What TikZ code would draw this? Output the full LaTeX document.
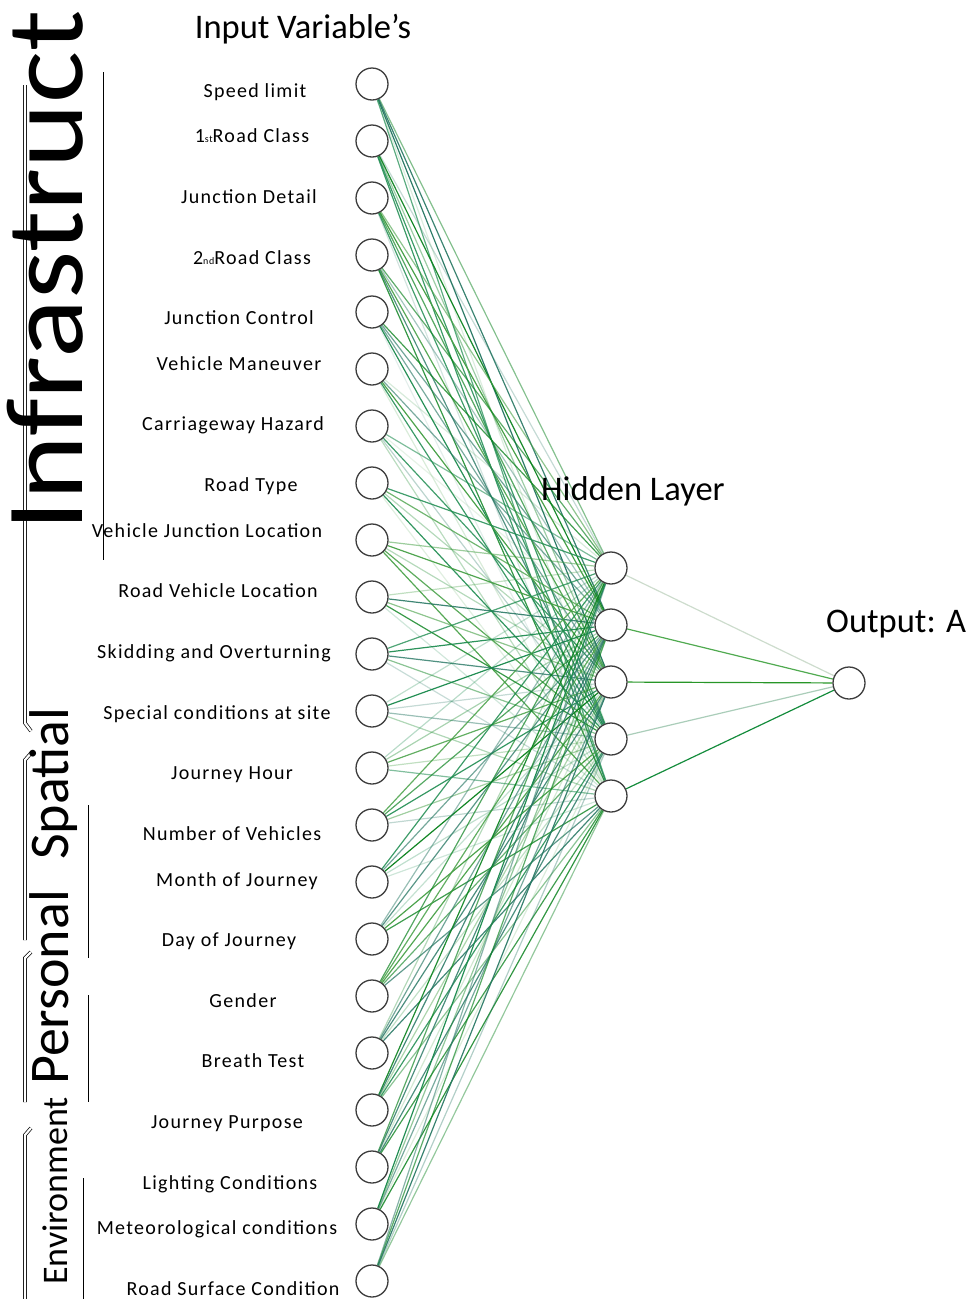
\documentclass[tikz,border=0pt]{standalone}
\usepackage{fontspec}
\setmainfont{Carlito}
\newfontfamily\labfont[LetterSpace=6.5]{Carlito}
\usetikzlibrary{backgrounds}
\definecolor{ncol}{RGB}{60,60,60}
\definecolor{g1}{RGB}{10,130,30}
\definecolor{g2}{RGB}{30,140,80}
\definecolor{g3}{RGB}{40,120,100}
\definecolor{g4}{RGB}{70,160,70}
\definecolor{hA}{RGB}{205,220,205}
\definecolor{hB}{RGB}{80,170,80}
\definecolor{hC}{RGB}{40,150,40}
\definecolor{hD}{RGB}{170,205,185}
\definecolor{hE}{RGB}{20,140,60}
\begin{document}
\begin{tikzpicture}[x=1pt,y=-1pt,
  neuron/.style={circle, draw=ncol, line width=1.3pt, fill=white, minimum size=32pt, inner sep=0pt},
  lab/.style={font=\labfont\fontsize{20}{20}\selectfont, anchor=mid, inner sep=0pt},
  ttl/.style={font=\fontsize{34.5}{34.5}\selectfont, inner sep=0pt},
  grp/.style={rotate=90, anchor=base west, inner sep=0pt},
  brk/.style={draw=black, double=white, double distance=2.2pt, line width=0.7pt},
  sepline/.style={draw=black, line width=1pt},
  conn/.style={line width=1.2pt}]
\useasboundingbox (0,0) rectangle (974,1299);
% input neurons
\foreach \i in {1,...,22}{
  \pgfmathsetmacro{\yy}{84+57*(\i-1)}
  \node[neuron] (i\i) at (372,\yy) {};
}
% hidden neurons
\foreach \j in {1,...,5}{
  \pgfmathsetmacro{\yy}{568+57*(\j-1)}
  \node[neuron] (h\j) at (611,\yy) {};
}
\node[neuron] (o) at (849,683) {};
% connections
\begin{scope}[on background layer]
\pgfmathsetseed{12}
\foreach \i in {1,...,22}{
  \foreach \j in {1,...,5}{
    \pgfmathrandominteger{\cc}{1}{4}
    \pgfmathsetmacro{\oo}{0.12+0.88*rnd}
    \draw[conn, draw=g\cc, draw opacity=\oo] (i\i) -- (h\j);
  }
}
\draw[conn, draw=hA] (h1) -- (o);
\draw[conn, draw=hB] (h2) -- (o);
\draw[conn, draw=hC] (h3) -- (o);
\draw[conn, draw=hD] (h4) -- (o);
\draw[conn, draw=hE] (h5) -- (o);
\end{scope}
% labels
\node[lab] (l1) at (255,95) {Speed limit};
\node[lab] (l2) at (252,140) {1{\fontsize{10}{10}\selectfont st}Road Class};
\node[lab] (l3) at (249,201) {Junction Detail};
\node[lab] (l4) at (252,262) {2{\fontsize{10}{10}\selectfont nd}Road Class};
\node[lab] (l5) at (239,322) {Junction Control};
\node[lab] (l6) at (239,368) {Vehicle Maneuver};
\node[lab] (l7) at (233,428) {Carriageway Hazard};
\node[lab] (l8) at (251,489) {Road Type};
\node[lab] (l9) at (207,535) {Vehicle Junction Location};
\node[lab] (l10) at (218,595) {Road Vehicle Location};
\node[lab] (l11) at (214,656) {Skidding and Overturning};
\node[lab] (l12) at (217,717) {Special conditions at site};
\node[lab] (l13) at (232,777) {Journey Hour};
\node[lab] (l14) at (232,838) {Number of Vehicles};
\node[lab] (l15) at (237,884) {Month of Journey};
\node[lab] (l16) at (229,944) {Day of Journey};
\node[lab] (l17) at (243,1005) {Gender};
\node[lab] (l18) at (253,1065) {Breath Test};
\node[lab] (l19) at (227,1126) {Journey Purpose};
\node[lab] (l20) at (230,1187) {Lighting Conditions};
\node[lab] (l21) at (217,1232) {Meteorological conditions};
\node[lab] (l22) at (233,1293) {Road Surface Condition};
% titles
\node[ttl, anchor=base] (tin) at (303,38) {Input Variable’s};
\node[ttl, anchor=base] (thid) at (633,500) {Hidden Layer};
\node[ttl, anchor=base west] (tout) at (826,632) {Output: A};
% group brackets
\draw[brk] (25,85) -- (25,723) -- (31,731);
\draw[brk] (32,752) -- (25,760) -- (25,940);
\draw[brk] (31,952) -- (25,958) -- (25,1102);
\draw[brk] (31,1128) -- (25,1135) -- (25,1299);
\draw[sepline] (103,72) -- (103,560);
\draw[sepline] (88,805) -- (88,958);
\draw[sepline] (88,995) -- (88,1102);
\draw[sepline] (83,1178) -- (83,1299);
% group labels
\node[grp, xscale=1.12, font=\fontsize{110}{110}\selectfont] (gI) at (82,532) {Infrastruct};
\node[grp, font=\fontsize{56}{56}\selectfont] (gS) at (68,860) {Spatial};
\node[grp, font=\fontsize{56}{56}\selectfont] (gP) at (68,1085) {Personal};
\node[grp, font=\fontsize{36}{36}\selectfont] (gE) at (67,1285) {Environment};
\end{tikzpicture}
\end{document}
